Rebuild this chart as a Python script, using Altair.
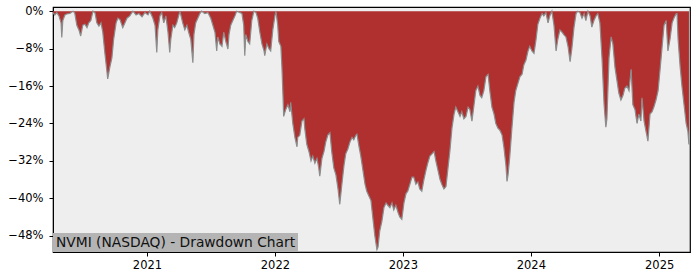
import altair as alt
import pandas as pd

dates = [
    "2020-04-08","2020-04-13","2020-04-19","2020-04-25","2020-05-01","2020-05-03","2020-05-06","2020-05-12",
    "2020-05-17","2020-05-26","2020-06-04","2020-06-09","2020-06-15","2020-06-21","2020-06-26","2020-07-02",
    "2020-07-08","2020-07-14","2020-07-19","2020-07-25","2020-07-31","2020-08-06","2020-08-11","2020-08-17",
    "2020-08-23","2020-08-28","2020-09-03","2020-09-09","2020-09-11","2020-09-17","2020-09-23","2020-09-28",
    "2020-10-05","2020-10-10","2020-10-16","2020-10-24","2020-10-30","2020-11-05","2020-11-13","2020-11-22",
    "2020-12-01","2020-12-09","2020-12-18","2020-12-26",
    "2021-01-04","2021-01-09","2021-01-18","2021-01-24","2021-01-29","2021-02-01","2021-02-07","2021-02-12",
    "2021-02-18","2021-02-24","2021-03-02","2021-03-07","2021-03-10","2021-03-16","2021-03-21","2021-03-27",
    "2021-04-05","2021-04-13","2021-04-19","2021-04-25","2021-04-30","2021-05-06","2021-05-12","2021-05-15",
    "2021-05-20","2021-05-26","2021-06-01","2021-06-06","2021-06-15","2021-06-24","2021-07-02","2021-07-08",
    "2021-07-14","2021-07-19","2021-07-22","2021-07-28","2021-08-03","2021-08-08","2021-08-14","2021-08-20",
    "2021-08-23","2021-08-28","2021-09-03","2021-09-09","2021-09-14","2021-09-23","2021-09-29","2021-10-04",
    "2021-10-07","2021-10-10","2021-10-16","2021-10-21","2021-10-27","2021-11-02","2021-11-08","2021-11-13",
    "2021-11-19","2021-11-25","2021-12-01","2021-12-03","2021-12-09","2021-12-15","2021-12-20","2021-12-26",
    "2022-01-01","2022-01-04","2022-01-09","2022-01-12","2022-01-18","2022-01-21","2022-01-24","2022-01-26",
    "2022-02-01","2022-02-07","2022-02-13","2022-02-15","2022-02-21","2022-02-27","2022-03-05","2022-03-07",
    "2022-03-13","2022-03-19","2022-03-25","2022-03-27","2022-04-02","2022-04-08","2022-04-14","2022-04-19",
    "2022-04-25","2022-05-01","2022-05-06","2022-05-09","2022-05-15","2022-05-21","2022-05-26","2022-06-01",
    "2022-06-07","2022-06-12","2022-06-18","2022-06-24","2022-06-30","2022-07-05","2022-07-11","2022-07-17",
    "2022-07-22","2022-07-28","2022-08-03","2022-08-09","2022-08-14","2022-08-20","2022-08-23","2022-08-29",
    "2022-09-03","2022-09-09","2022-09-15","2022-09-20","2022-09-26","2022-10-02","2022-10-07","2022-10-13",
    "2022-10-19","2022-10-22","2022-10-27","2022-11-02","2022-11-08","2022-11-14","2022-11-19","2022-11-25",
    "2022-12-01","2022-12-06","2022-12-12","2022-12-18","2022-12-23","2022-12-29",
    "2023-01-04","2023-01-10","2023-01-15","2023-01-21","2023-01-27","2023-02-01","2023-02-07","2023-02-13",
    "2023-02-18","2023-02-24","2023-03-02","2023-03-08","2023-03-13","2023-03-19","2023-03-25","2023-03-31",
    "2023-04-05","2023-04-11","2023-04-17","2023-04-22","2023-04-28","2023-05-04","2023-05-09","2023-05-15",
    "2023-05-21","2023-05-27","2023-06-01","2023-06-07","2023-06-13","2023-06-18","2023-06-24","2023-06-30",
    "2023-07-06","2023-07-11","2023-07-17","2023-07-23","2023-07-28","2023-08-03","2023-08-09","2023-08-14",
    "2023-08-20","2023-08-26","2023-09-01","2023-09-06","2023-09-12","2023-09-18","2023-09-23","2023-09-29",
    "2023-10-05","2023-10-11","2023-10-16","2023-10-22","2023-10-25","2023-10-28","2023-11-02","2023-11-08",
    "2023-11-14","2023-11-19","2023-11-25","2023-12-01","2023-12-07","2023-12-12","2023-12-18","2023-12-24",
    "2023-12-29",
    "2024-01-04","2024-01-10","2024-01-16","2024-01-21","2024-01-27","2024-02-02","2024-02-07","2024-02-13",
    "2024-02-19","2024-02-24","2024-03-01","2024-03-07","2024-03-13","2024-03-18","2024-03-24","2024-03-30",
    "2024-04-04","2024-04-10","2024-04-16","2024-04-22","2024-04-27","2024-05-03","2024-05-09","2024-05-14",
    "2024-05-20","2024-05-26","2024-06-01","2024-06-06","2024-06-12","2024-06-18","2024-06-23","2024-06-29",
    "2024-07-05","2024-07-10","2024-07-16","2024-07-22","2024-07-28","2024-08-02","2024-08-05","2024-08-11",
    "2024-08-17","2024-08-22","2024-08-28","2024-09-03","2024-09-08","2024-09-14","2024-09-20","2024-09-25",
    "2024-10-01","2024-10-07","2024-10-13","2024-10-18","2024-10-24","2024-10-30","2024-11-04","2024-11-10",
    "2024-11-13","2024-11-19","2024-11-24","2024-11-30","2024-12-06","2024-12-12","2024-12-17","2024-12-23",
    "2024-12-29",
    "2025-01-03","2025-01-09","2025-01-15","2025-01-21","2025-01-26","2025-02-01","2025-02-07","2025-02-12",
    "2025-02-18","2025-02-21","2025-02-24","2025-03-02","2025-03-07","2025-03-13","2025-03-19","2025-03-24",
    "2025-03-27",
]

drawdown = [
    -0.3,-0.8,-0.3,-1.0,-2.5,-5.6,-2.0,-0.8,
    -0.6,-0.5,0.0,-0.4,-3.0,-4.0,-5.3,-3.0,
    -2.8,-3.5,-2.5,-2.0,0.0,-0.4,-2.5,-3.2,
    -2.5,-4.5,-9.0,-13.0,-14.5,-12.0,-10.0,-6.0,
    -2.5,-1.5,-1.8,-3.5,-2.5,-1.5,-1.0,0.0,
    -0.8,-0.5,-1.2,-0.3,
    -0.8,0.0,-1.5,-3.0,-8.8,-4.0,-1.0,-0.3,
    -2.5,-1.0,-4.5,-8.8,-6.0,-3.0,-3.5,-2.5,
    0.0,-2.5,-4.0,-3.0,-4.5,-6.0,-11.0,-5.0,
    -2.5,-1.5,-0.5,0.0,-0.5,-0.3,-1.5,-3.0,
    -4.5,-8.5,-5.5,-7.0,-7.5,-4.5,-6.5,-8.1,
    -5.0,-3.0,-2.0,-1.0,0.0,-0.3,-0.5,-3.0,
    -9.5,-5.0,-6.5,-7.0,-2.0,0.0,-0.3,-1.5,
    -4.5,-7.0,-8.5,-9.5,-7.0,-8.0,-8.5,-4.0,
    -1.0,0.0,-3.0,-6.5,-7.5,-12.0,-18.0,-22.5,
    -21.0,-20.0,-21.5,-19.5,-24.0,-27.0,-29.0,-27.0,
    -26.5,-23.5,-23.0,-25.0,-28.5,-30.0,-32.0,-31.0,
    -32.5,-31.5,-33.5,-35.3,-31.5,-30.0,-28.0,-26.5,
    -26.0,-30.0,-33.5,-35.0,-38.0,-41.3,-37.0,-33.0,
    -30.5,-29.5,-28.0,-27.0,-27.5,-26.5,-26.3,-29.0,
    -31.0,-34.0,-37.0,-38.5,-39.5,-40.5,-44.0,-48.0,
    -51.0,-50.5,-47.0,-45.0,-42.0,-41.0,-41.5,-42.0,
    -41.0,-42.5,-41.5,-43.0,-44.0,-44.5,
    -41.0,-39.0,-38.5,-37.0,-35.5,-35.5,-37.0,-36.5,
    -38.0,-38.5,-36.0,-34.0,-32.5,-31.0,-30.5,-30.0,
    -32.0,-34.0,-36.0,-37.0,-38.0,-37.5,-34.0,-30.0,
    -25.0,-22.0,-20.5,-21.5,-22.5,-21.5,-23.0,-22.5,
    -20.5,-21.0,-23.5,-20.0,-17.0,-16.0,-18.0,-18.5,
    -17.0,-14.0,-13.5,-17.0,-20.5,-22.0,-24.0,-25.0,
    -25.5,-26.5,-29.0,-33.0,-36.4,-35.0,-31.0,-25.0,
    -19.5,-17.0,-15.5,-14.0,-13.5,-11.5,-10.5,-8.5,
    -7.5,
    -8.5,-9.0,-6.0,-2.8,-1.5,-0.5,-1.0,-0.3,
    -2.5,-1.0,0.0,-3.0,-8.5,-6.0,-4.0,-4.5,
    -5.0,-5.5,-7.5,-10.8,-8.0,-3.5,-0.5,0.0,
    -0.3,-1.5,-0.5,-2.0,0.0,-1.0,-3.4,-2.0,
    -1.0,-0.5,-2.5,-10.0,-20.0,-24.8,-23.0,-10.0,
    -5.5,-7.0,-12.0,-15.0,-17.5,-19.0,-18.0,-16.5,
    -16.0,-17.0,-12.4,-20.0,-21.0,-24.0,-22.0,-23.5,
    -18.5,-23.5,-25.5,-27.8,-22.0,-21.5,-20.5,-19.0,
    -17.0,
    -13.0,-8.0,-3.0,-2.0,-8.5,-6.0,-2.5,-1.5,
    -0.6,-0.5,-6.0,-12.0,-16.0,-20.0,-24.0,-25.7,
    -28.5,
]

y_ticks = [0, -8, -16, -24, -32, -40, -48]
x_ticks = [2021, 2022, 2023, 2024, 2025]
title_text = "NVMI (NASDAQ) - Drawdown Chart"

df = pd.DataFrame({"date": dates, "dd": drawdown})
df["zero"] = 0.0

FONT = "DejaVu Sans"

x_enc = alt.X(
    "date:T",
    scale=alt.Scale(
        domain=[alt.DateTime(year=2020, month=4, date=8), alt.DateTime(year=2025, month=3, date=30)],
        nice=False,
    ),
    axis=alt.Axis(
        values=[alt.DateTime(year=y, month=1, date=1) for y in x_ticks],
        format="%Y", title=None, grid=False, tickSize=4, tickColor="black",
        domainColor="black", labelFont=FONT, labelFontSize=11.5, labelColor="black",
        labelPadding=3, labelFlush=False,
    ),
)
y_enc = alt.Y(
    "dd:Q",
    scale=alt.Scale(domain=[-51.5, 0.9], nice=False, zero=False),
    axis=alt.Axis(
        values=y_ticks, title=None, grid=False, tickSize=4, tickColor="black",
        domainColor="black", labelFont=FONT, labelFontSize=11.5, labelColor="black",
        labelPadding=6,
        labelExpr="datum.value == 0 ? '0%' : '\u2212' + abs(datum.value) + '%'",
    ),
)

area = alt.Chart(df).mark_area(
    color="#b03030", opacity=1, interpolate="linear",
    line={"color": "#8c8c8c", "strokeWidth": 1.2},
).encode(x=x_enc, y=y_enc, y2="zero:Q")

box = alt.Chart(pd.DataFrame({"t": [title_text]})).mark_rect(color="#b4b4b4", opacity=1).encode(
    x=alt.value(0), x2=alt.value(245), y=alt.value(226), y2=alt.value(245)
)
label = alt.Chart(pd.DataFrame({"t": [title_text]})).mark_text(
    align="left", baseline="middle", font=FONT, fontSize=13.8, color="#111111"
).encode(x=alt.value(3), y=alt.value(236), text="t:N")

chart = alt.layer(area, box, label).properties(
    width=637, height=245,
    background="white",
    autosize=alt.AutoSizeParams(type="none"),
    padding={"left": 53, "top": 7, "right": 10, "bottom": 28},
).configure_view(fill="#eeeeee", stroke="black", strokeWidth=1.2)

chart.save("out.html", embed_options={"renderer": "svg", "actions": False})
